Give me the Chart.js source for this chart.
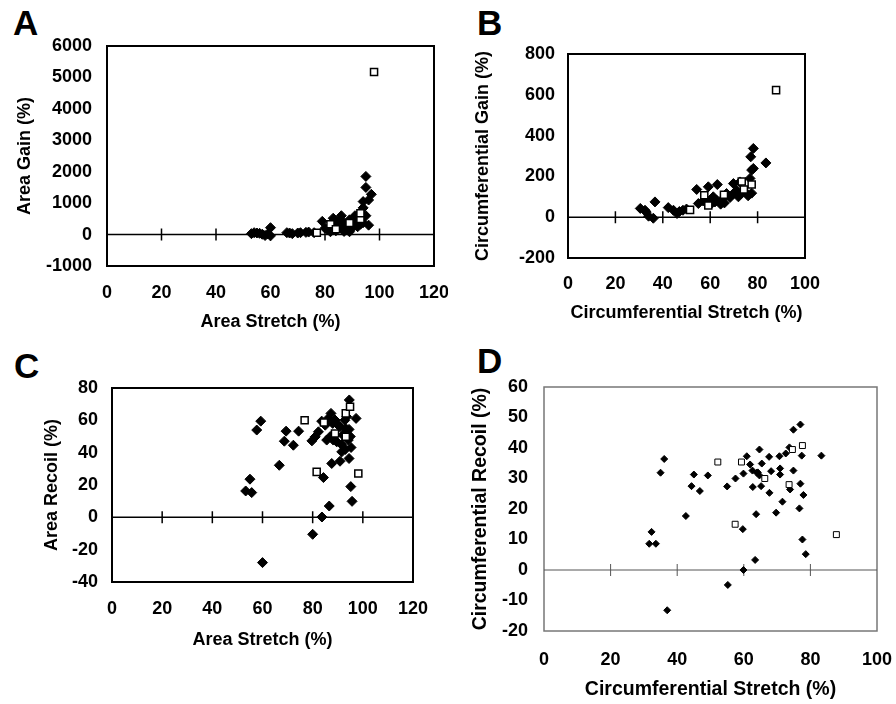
<!DOCTYPE html>
<html>
<head>
<meta charset="utf-8">
<script src="https://cdn.jsdelivr.net/npm/chart.js@4/dist/chart.umd.min.js"></script>
<style>
  body { margin: 0; background: #fff; width: 896px; height: 704px; position: relative; overflow: hidden; }
  canvas { position: absolute; }
  .panel-letter { position: absolute; font-family: "Liberation Sans", Arial, sans-serif; font-weight: bold; font-size: 35px; line-height: 35px; color: #000; }
</style>
</head>
<body>
<div class="panel-letter" style="left:13px;top:5px">A</div>
<div class="panel-letter" style="left:477px;top:5px">B</div>
<div class="panel-letter" style="left:14px;top:348px">C</div>
<div class="panel-letter" style="left:477px;top:343px">D</div>

<canvas id="chartA" width="448" height="340" style="left:0;top:0"></canvas>
<canvas id="chartB" width="448" height="340" style="left:448px;top:0"></canvas>
<canvas id="chartC" width="448" height="316" style="left:0;top:340px"></canvas>
<canvas id="chartD" width="448" height="364" style="left:448px;top:340px"></canvas>

<script>
// A: area gain vs area stretch
const aStretchFilled = [53,54,55,56,57,58,59,60,60,66,67,68,70,71,73,74,76,79,80,81,82,83,84,84,85,86,86,87,87,88,88,89,89,90,90,91,91,92,92,93,93,94,94,94,95,95,95,96,96,97];
const aGainFilled = [30,60,50,40,10,-30,20,220,-40,60,50,30,50,60,70,80,60,420,200,150,90,520,270,120,430,600,200,380,100,270,150,470,90,330,210,600,400,250,500,330,700,1050,380,850,1850,1500,600,1100,300,1280];
const aStretchOpen = [77,82,84,89,93,93,98];
const aGainOpen = [60,330,170,370,500,680,5170];

// B: circumferential gain vs circumferential stretch
const bStretchFilled = [30.5,32.5,33,34,36,36.7,42.3,44.5,46,47,48.5,50,54.3,55,57,59.2,60,60.6,61.3,62,62.7,63,64.4,65.5,66,66.9,68.4,69.8,69.8,71.2,71.9,72.6,73,75.4,76,76.8,77.1,77.5,77.5,78.2,78.2,83.5];
const bGainFilled = [43,34,25,5,-5,75,47,34,18,28,34,40,136,67,80,149,83,67,100,75,83,160,64,92,70,116,97,116,165,132,100,173,115,116,105,190,296,231,118,239,337,266];
const bStretchOpen = [51.5,57.5,59.2,65.8,73.3,74.2,77.5,87.8];
const bGainOpen = [36,108,57,110,175,136,160,623];

// C: area recoil vs area stretch
const cStretchFilled = [59.3,57.7,55,53.3,55.7,66.7,69.4,68.7,72.3,74.4,79.7,60,80,83.7,86.6,84.3,87.6,90.9,95.2,95.7,94.5,94.6,97.3,93,95.3,91.6,81,82.3,83.6,85.6,87.3,88.9,89.6,90.9,92,93.2,94.5,94.2,93.6,88,90.2,88.2,86.2,85,87,91.5,95,92.8];
const cRecoilFilled = [59.5,54,23.6,16.3,15.3,32.2,53.3,47.1,44.6,53.3,47.3,-28,-10.5,0.2,7,24.6,33.3,34.7,19,9.9,36.4,72.6,61.2,42,43.2,40.5,49.8,52.9,59.5,47.8,64.3,60.2,46.7,56,50.9,55,54.4,47.8,62.2,58.1,57,47.8,61.2,57,50,45,50,60];
const cStretchOpen = [76.8,84.5,81.6,98.2,88.9,93.2,94.9,93.2];
const cRecoilOpen = [60,58.7,28.1,27.1,51.9,64.3,68.4,49.8];

// D: circumferential recoil vs circumferential stretch
const dStretchFilled = [32.3,31.6,33.6,35,36.1,37,42.6,45,44.3,46.8,49.2,55,55.2,57.5,59.7,59.9,59.9,60.9,61.9,62.6,62.7,63.4,63.7,63.9,64.7,64.7,65.4,65.2,67.6,67.7,68.2,69.7,70.7,70.9,70.9,71.6,72.6,73.7,74.9,77,77.4,74.9,77,73.9,77.9,76.7,77.6,78.6,83.3,64.2];
const dRecoilFilled = [12.5,8.6,8.6,31.9,36.4,-13.2,17.7,31.3,27.5,25.9,31,27.4,-4.9,30,13.4,0,31.6,37.3,34.6,32.6,27.2,3.3,18.3,31.9,39.5,31,34.9,27.5,37.1,25.3,32.4,18.8,37.3,33.3,31.3,22.4,38.2,40.2,46,47.7,37.5,32.6,28.3,26.4,24.6,20.2,10,5.2,37.5,32];
const dStretchOpen = [52.2,59.3,66.3,74.6,77.6,73.6,57.4,87.8];
const dRecoilOpen = [35.4,35.4,30,39.5,40.8,28,15,11.6];

const FONT = '"Liberation Sans", Arial, sans-serif';

const toPoints = (xs, ys) => xs.map((x, i) => ({ x: x, y: ys[i] }));

// box round the plot, the zero line and its small tick marks
const framePlugin = {
  id: 'frame',
  beforeDatasetsDraw(chart, args, opts) {
    const { ctx, chartArea: a, scales: { x, y } } = chart;
    ctx.save();
    ctx.strokeStyle = opts.color;
    ctx.lineWidth = opts.frameWidth;
    ctx.strokeRect(a.left, a.top, a.right - a.left, a.bottom - a.top);
    const y0 = y.getPixelForValue(0);
    ctx.strokeStyle = opts.zeroColor;
    ctx.lineWidth = opts.zeroWidth;
    ctx.beginPath();
    ctx.moveTo(a.left, y0);
    ctx.lineTo(a.right, y0);
    x.ticks.forEach(t => {
      if (t.value > x.min && t.value < x.max) {
        const px = x.getPixelForValue(t.value);
        ctx.moveTo(px, y0 - 6);
        ctx.lineTo(px, y0 + 6);
      }
    });
    ctx.stroke();
    ctx.restore();
  }
};

function buildPanel(id, p) {
  const canvas = document.getElementById(id);
  const w = canvas.width, h = canvas.height;
  const tickFont = { family: FONT, size: p.tickSize, weight: 'bold' };
  const titleFont = { family: FONT, size: p.titleSize, weight: 'bold' };
  const plain = v => String(v);
  return new Chart(canvas, {
    type: 'scatter',
    data: {
      datasets: [
        {
          data: toPoints(p.openX, p.openY),
          pointStyle: 'rect', pointRadius: p.openR,
          backgroundColor: '#fff', borderColor: '#000', borderWidth: p.openBorder
        },
        {
          data: toPoints(p.filledX, p.filledY),
          pointStyle: 'rectRot', pointRadius: p.filledR,
          backgroundColor: '#000', borderColor: '#000', borderWidth: 1
        }
      ]
    },
    options: {
      responsive: false,
      animation: false,
      events: [],
      layout: { padding: { left: 0, top: p.area.top, right: w - p.area.right, bottom: 0 } },
      plugins: {
        legend: { display: false },
        tooltip: { enabled: false },
        frame: p.frame
      },
      scales: {
        x: {
          type: 'linear', min: p.xMin, max: p.xMax,
          grid: { display: false, drawTicks: false },
          border: { display: false },
          ticks: { stepSize: p.xStep, padding: p.xTickPad, font: tickFont, color: '#000', callback: plain },
          title: { display: true, text: p.xTitle, font: titleFont, color: '#000', padding: { top: 0, bottom: p.xTitlePad } },
          afterFit(s) { s.height = h - p.area.bottom; s.paddingLeft = 0; s.paddingRight = 0; }
        },
        y: {
          type: 'linear', min: p.yMin, max: p.yMax,
          grid: { display: false, drawTicks: false },
          border: { display: false },
          ticks: { stepSize: p.yStep, padding: p.yTickPad, font: tickFont, color: '#000', callback: plain },
          title: { display: true, text: p.yTitle, font: titleFont, color: '#000', padding: { top: p.yTitlePad, bottom: 0 } },
          afterFit(s) { s.width = p.area.left; s.paddingTop = 0; s.paddingBottom = 0; }
        }
      }
    },
    plugins: [framePlugin]
  });
}

const darkFrame = { color: '#000', frameWidth: 2, zeroColor: '#000', zeroWidth: 1.5 };
const greyFrame = { color: '#777', frameWidth: 1.5, zeroColor: '#555', zeroWidth: 1 };

buildPanel('chartA', {
  filledX: aStretchFilled, filledY: aGainFilled, openX: aStretchOpen, openY: aGainOpen,
  filledR: 5, openR: 5, openBorder: 1.5,
  xMin: 0, xMax: 120, xStep: 20, yMin: -1000, yMax: 6000, yStep: 1000,
  xTitle: 'Area Stretch (%)', yTitle: 'Area Gain (%)',
  tickSize: 18, titleSize: 18,
  area: { left: 107, top: 46, right: 434, bottom: 266 },
  xTickPad: 16, yTickPad: 15, xTitlePad: 7, yTitlePad: 14,
  frame: darkFrame
});

buildPanel('chartB', {
  filledX: bStretchFilled, filledY: bGainFilled, openX: bStretchOpen, openY: bGainOpen,
  filledR: 5, openR: 5, openBorder: 1.5,
  xMin: 0, xMax: 100, xStep: 20, yMin: -200, yMax: 800, yStep: 200,
  xTitle: 'Circumferential Stretch (%)', yTitle: 'Circumferential Gain (%)',
  tickSize: 18, titleSize: 18,
  area: { left: 120, top: 54, right: 357, bottom: 258 },
  xTickPad: 15, yTickPad: 13, xTitlePad: 16, yTitlePad: 24,
  frame: darkFrame
});

buildPanel('chartC', {
  filledX: cStretchFilled, filledY: cRecoilFilled, openX: cStretchOpen, openY: cRecoilOpen,
  filledR: 5, openR: 5, openBorder: 1.5,
  xMin: 0, xMax: 120, xStep: 20, yMin: -40, yMax: 80, yStep: 20,
  xTitle: 'Area Stretch (%)', yTitle: 'Area Recoil (%)',
  tickSize: 18, titleSize: 18,
  area: { left: 112, top: 48, right: 413, bottom: 242 },
  xTickPad: 16, yTickPad: 14, xTitlePad: 5, yTitlePad: 41,
  frame: darkFrame
});

buildPanel('chartD', {
  filledX: dStretchFilled, filledY: dRecoilFilled, openX: dStretchOpen, openY: dRecoilOpen,
  filledR: 3.5, openR: 4.2, openBorder: 1,
  xMin: 0, xMax: 100, xStep: 20, yMin: -20, yMax: 60, yStep: 10,
  xTitle: 'Circumferential Stretch (%)', yTitle: 'Circumferential Recoil (%)',
  tickSize: 18, titleSize: 19.5,
  area: { left: 96, top: 47, right: 429, bottom: 291 },
  xTickPad: 18, yTickPad: 16, xTitlePad: 3, yTitlePad: 21,
  frame: greyFrame
});
</script>
</body>
</html>
